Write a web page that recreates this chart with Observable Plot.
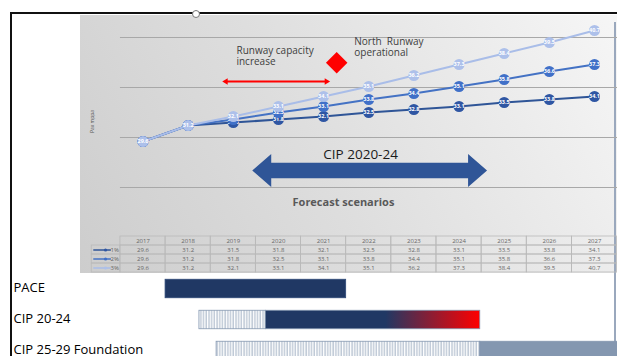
<!DOCTYPE html>
<html><head><meta charset="utf-8">
<script src="https://cdn.jsdelivr.net/npm/d3@7"></script>
<script src="https://cdn.jsdelivr.net/npm/@observablehq/plot@0.6"></script>
<style>
html,body{margin:0;padding:0;background:#fff;overflow:hidden;}
#root{position:relative;width:617px;height:356px;overflow:hidden;font-family:"Open Sans",sans-serif;background:#fff;}
.abs{position:absolute;}
#panel{left:80px;top:15px;width:537px;height:258px;background:linear-gradient(60deg,#cdcdcd 0%,#dedede 45%,#f6f6f6 100%);}
#frame{left:10px;top:12px;width:620px;height:360px;border-left:2px solid #111;border-top:2px solid #111;}
#rightline{left:614px;top:22px;width:1.5px;height:340px;background:#9aa8bd;}
#handle{left:192px;top:10px;width:6px;height:6px;border-radius:50%;border:1px solid #777;background:#fff;}
</style></head><body>
<div id="root">
  <div id="panel" class="abs"></div>
  <div id="frame" class="abs"></div>
  <div id="rightline" class="abs"></div>
  <div id="handle" class="abs"></div>
  <div id="chart" class="abs" style="left:0;top:0"></div>
  <div id="table" class="abs" style="left:0;top:235px"></div>
  <div id="gantt" class="abs" style="left:0;top:273px"></div>
</div>
<script>
// ---------- data ----------
const years = [2017, 2018, 2019, 2020, 2021, 2022, 2023, 2024, 2025, 2026, 2027];
const series = ["1%", "2%", "3%"];
const growth1 = [29.6, 31.2, 31.5, 31.8, 32.1, 32.5, 32.8, 33.1, 33.5, 33.8, 34.1];
const growth2 = [29.6, 31.2, 31.8, 32.5, 33.1, 33.8, 34.4, 35.1, 35.8, 36.6, 37.3];
const growth3 = [29.6, 31.2, 32.1, 33.1, 34.1, 35.1, 36.2, 37.3, 38.4, 39.5, 40.7];
const gridValues = [25, 30, 35, 40];
const tasks = ["PACE", "CIP 20-24", "CIP 25-29 Foundation"];
const phaseTask = ["PACE", "CIP 20-24", "CIP 20-24", "CIP 25-29 Foundation", "CIP 25-29 Foundation"];
const phaseStart = [2017.5, 2018.25, 2019.72, 2018.63, 2024.47];
const phaseEnd = [2021.5, 2019.72, 2024.47, 2024.47, 2028];
const phaseKind = ["delivery", "planning", "fade", "planning", "future"];

// ---------- derived tables ----------
const seriesValues = {"1%": growth1, "2%": growth2, "3%": growth3};
const points = series.flatMap(s => years.map((year, i) => ({series: s, year, value: seriesValues[s][i]})));
const phases = phaseTask.map((task, i) => ({task, start: phaseStart[i], end: phaseEnd[i], kind: phaseKind[i]}));

// ---------- styles / layout ----------
const W = 617;
const pxPerYear = 45.15, x2017 = 142.5;
const xDomain = [2017 - x2017 / pxPerYear, 2017 + (W - x2017) / pxPerYear];
const X = {type: "linear", domain: xDomain, range: [0, W]};
const lineColor = {"1%": "#2f5597", "2%": "#4472c4", "3%": "#a9bde8"};
const dotColor = {"1%": "#2f56a3", "2%": "#4070c8", "3%": "#adc0ea"};
const font = "'Open Sans', sans-serif";
const base = {width: W, marginTop: 0, marginRight: 0, marginBottom: 0, marginLeft: 0,
  style: {background: "transparent", overflow: "visible", fontFamily: font}};

// big double arrow polygon (annotation, data space)
const arrL = 2019.42, arrR = 2024.62, headLen = 0.42, yc = 26.7, headH = 1.65, shaftH = 0.78;
const bigArrow = [
  [arrL, yc], [arrL + headLen, yc + headH], [arrL + headLen, yc + shaftH], [arrR - headLen, yc + shaftH],
  [arrR - headLen, yc + headH], [arrR, yc], [arrR - headLen, yc - headH], [arrR - headLen, yc - shaftH],
  [arrL + headLen, yc - shaftH], [arrL + headLen, yc - headH], [arrL, yc]
];
const redY = 35.6;

const chart = Plot.plot({
  ...base, height: 236,
  x: {...X, axis: null},
  y: {domain: [20.1, 43.7], range: [236, 0], axis: null},
  marks: [
    Plot.ruleY(gridValues, {x1: 2016.5, x2: xDomain[1], stroke: "#a8a8a8", strokeWidth: 1}),
    Plot.text(["Pax mppa"], {x: 2015.88, y: 31.6, text: d => d, rotate: -90, fontSize: 5, fill: "#555"}),
    ...series.map(s => Plot.line(points.filter(d => d.series === s), {x: "year", y: "value", stroke: lineColor[s], strokeWidth: 2})),
    ...series.flatMap(s => [
      Plot.dot(points.filter(d => d.series === s), {x: "year", y: "value", r: 5.5, fill: dotColor[s]}),
      Plot.text(points.filter(d => d.series === s), {x: "year", y: "value", text: d => d.value.toFixed(1), fill: "white", fontSize: 5.5, fontWeight: "bold"})
    ]),
    Plot.text(["Runway capacity\nincrease"], {x: 2019.07, y: 38.2, text: d => d, textAnchor: "start", lineAnchor: "middle", lineHeight: 1.1, fontSize: 10, fill: "#404040"}),
    Plot.ruleY([redY], {x1: 2018.85, x2: 2021.05, stroke: "#ff0000", strokeWidth: 2}),
    Plot.dot([{x: 2018.836, r: -90}, {x: 2021.064, r: 90}], {x: "x", y: redY, rotate: "r", symbol: "triangle2", r: 3, fill: "#ff0000"}),
    Plot.dot([{x: 2021.29, y: 37.47}], {x: "x", y: "y", symbol: "diamond2", r: 9.7, fill: "#ff0000"}),
    Plot.text(["North  Runway\noperational"], {x: 2021.68, y: 39.05, text: d => d, textAnchor: "start", lineAnchor: "middle", lineHeight: 1.1, fontSize: 10, fill: "#404040"}),
    Plot.line(bigArrow, {x: d => d[0], y: d => d[1], fill: "#2f5597", stroke: "none"}),
    Plot.text(["CIP 2020-24"], {x: 2021.82, y: 28.3, text: d => d, fontSize: 13.5, fill: "#1a1a1a"}),
    Plot.text(["Forecast scenarios"], {x: 2021.44, y: 23.53, text: d => d, fontSize: 11, fontWeight: "bold", fill: "#595959"})
  ]
});
document.getElementById("chart").appendChild(chart);

// ---------- table ----------
const tableRows = ["year", ...series];
const cells = tableRows.flatMap(r => years.map((year, i) => ({row: r, year, label: r === "year" ? String(year) : seriesValues[r][i].toFixed(1)})));
const legendCells = series.map(s => ({row: s}));
const table = Plot.plot({
  ...base, height: 38,
  x: {...X, axis: null},
  y: {type: "band", domain: tableRows, range: [0, 38], padding: 0, axis: null},
  marks: [
    Plot.barX(cells, {x1: d => d.year - 0.5, x2: d => d.year + 0.5, y: "row", fill: "none", stroke: "#b9b9b9", strokeWidth: 0.8}),
    Plot.barX(legendCells, {x1: 2015.864, x2: 2016.5, y: "row", fill: "none", stroke: "#b9b9b9", strokeWidth: 0.8}),
    Plot.text(cells, {x: "year", y: "row", text: "label", fontSize: 6, fill: "#666"}),
    ...series.map(s => Plot.ruleY([s], {y: d => d, x1: 2015.91, x2: 2016.3, stroke: lineColor[s], strokeWidth: 1.5})),
    ...series.map(s => Plot.dot([s], {y: d => d, x: 2016.17, r: 1.6, fill: dotColor[s]})),
    Plot.text(legendCells, {y: "row", x: 2016.5, text: "row", textAnchor: "end", dx: -1.5, fontSize: 6, fill: "#666"})
  ]
});
document.getElementById("table").appendChild(table);

// ---------- gantt ----------
const kindFill = {delivery: "#203864", planning: "url(#hatch)", fade: "url(#fade)", future: "#8497b0"};
const kindStroke = {delivery: "#2f4a78", planning: "#8497b0", fade: "#8497b0", future: "#8497b0"};
const gantt = Plot.plot({
  ...base, height: 83,
  x: {...X, axis: null},
  y: {type: "band", domain: tasks, range: [-0.5, 92.5], padding: 0, axis: null},
  marks: [
    ...Object.keys(kindFill).map(k => Plot.barX(phases.filter(d => d.kind === k), {x1: "start", x2: "end", y: "task", fill: kindFill[k], stroke: kindStroke[k], strokeWidth: 0.8, insetTop: 6.25, insetBottom: 6.25})),
    Plot.text(tasks, {y: d => d, text: d => d, frameAnchor: "left", textAnchor: "start", dx: 13, dy: -1, fontSize: 13, fill: "#000"})
  ]
});
const defs = d3.select(gantt).insert("defs", ":first-child");
const hatch = defs.append("pattern").attr("id", "hatch").attr("patternUnits", "userSpaceOnUse").attr("width", 2.7).attr("height", 10);
hatch.append("rect").attr("width", 2.7).attr("height", 10).attr("fill", "#fff");
hatch.append("line").attr("x1", 1).attr("x2", 1).attr("y1", 0).attr("y2", 10).attr("stroke", "#8497b0").attr("stroke-width", 0.8);
const fade = defs.append("linearGradient").attr("id", "fade").attr("x1", 0).attr("x2", 1).attr("y1", 0).attr("y2", 0);
fade.append("stop").attr("offset", 0).attr("stop-color", "#203864");
fade.append("stop").attr("offset", 0.56).attr("stop-color", "#203864");
fade.append("stop").attr("offset", 1).attr("stop-color", "#ff0000");
document.getElementById("gantt").appendChild(gantt);
</script>
</body></html>
